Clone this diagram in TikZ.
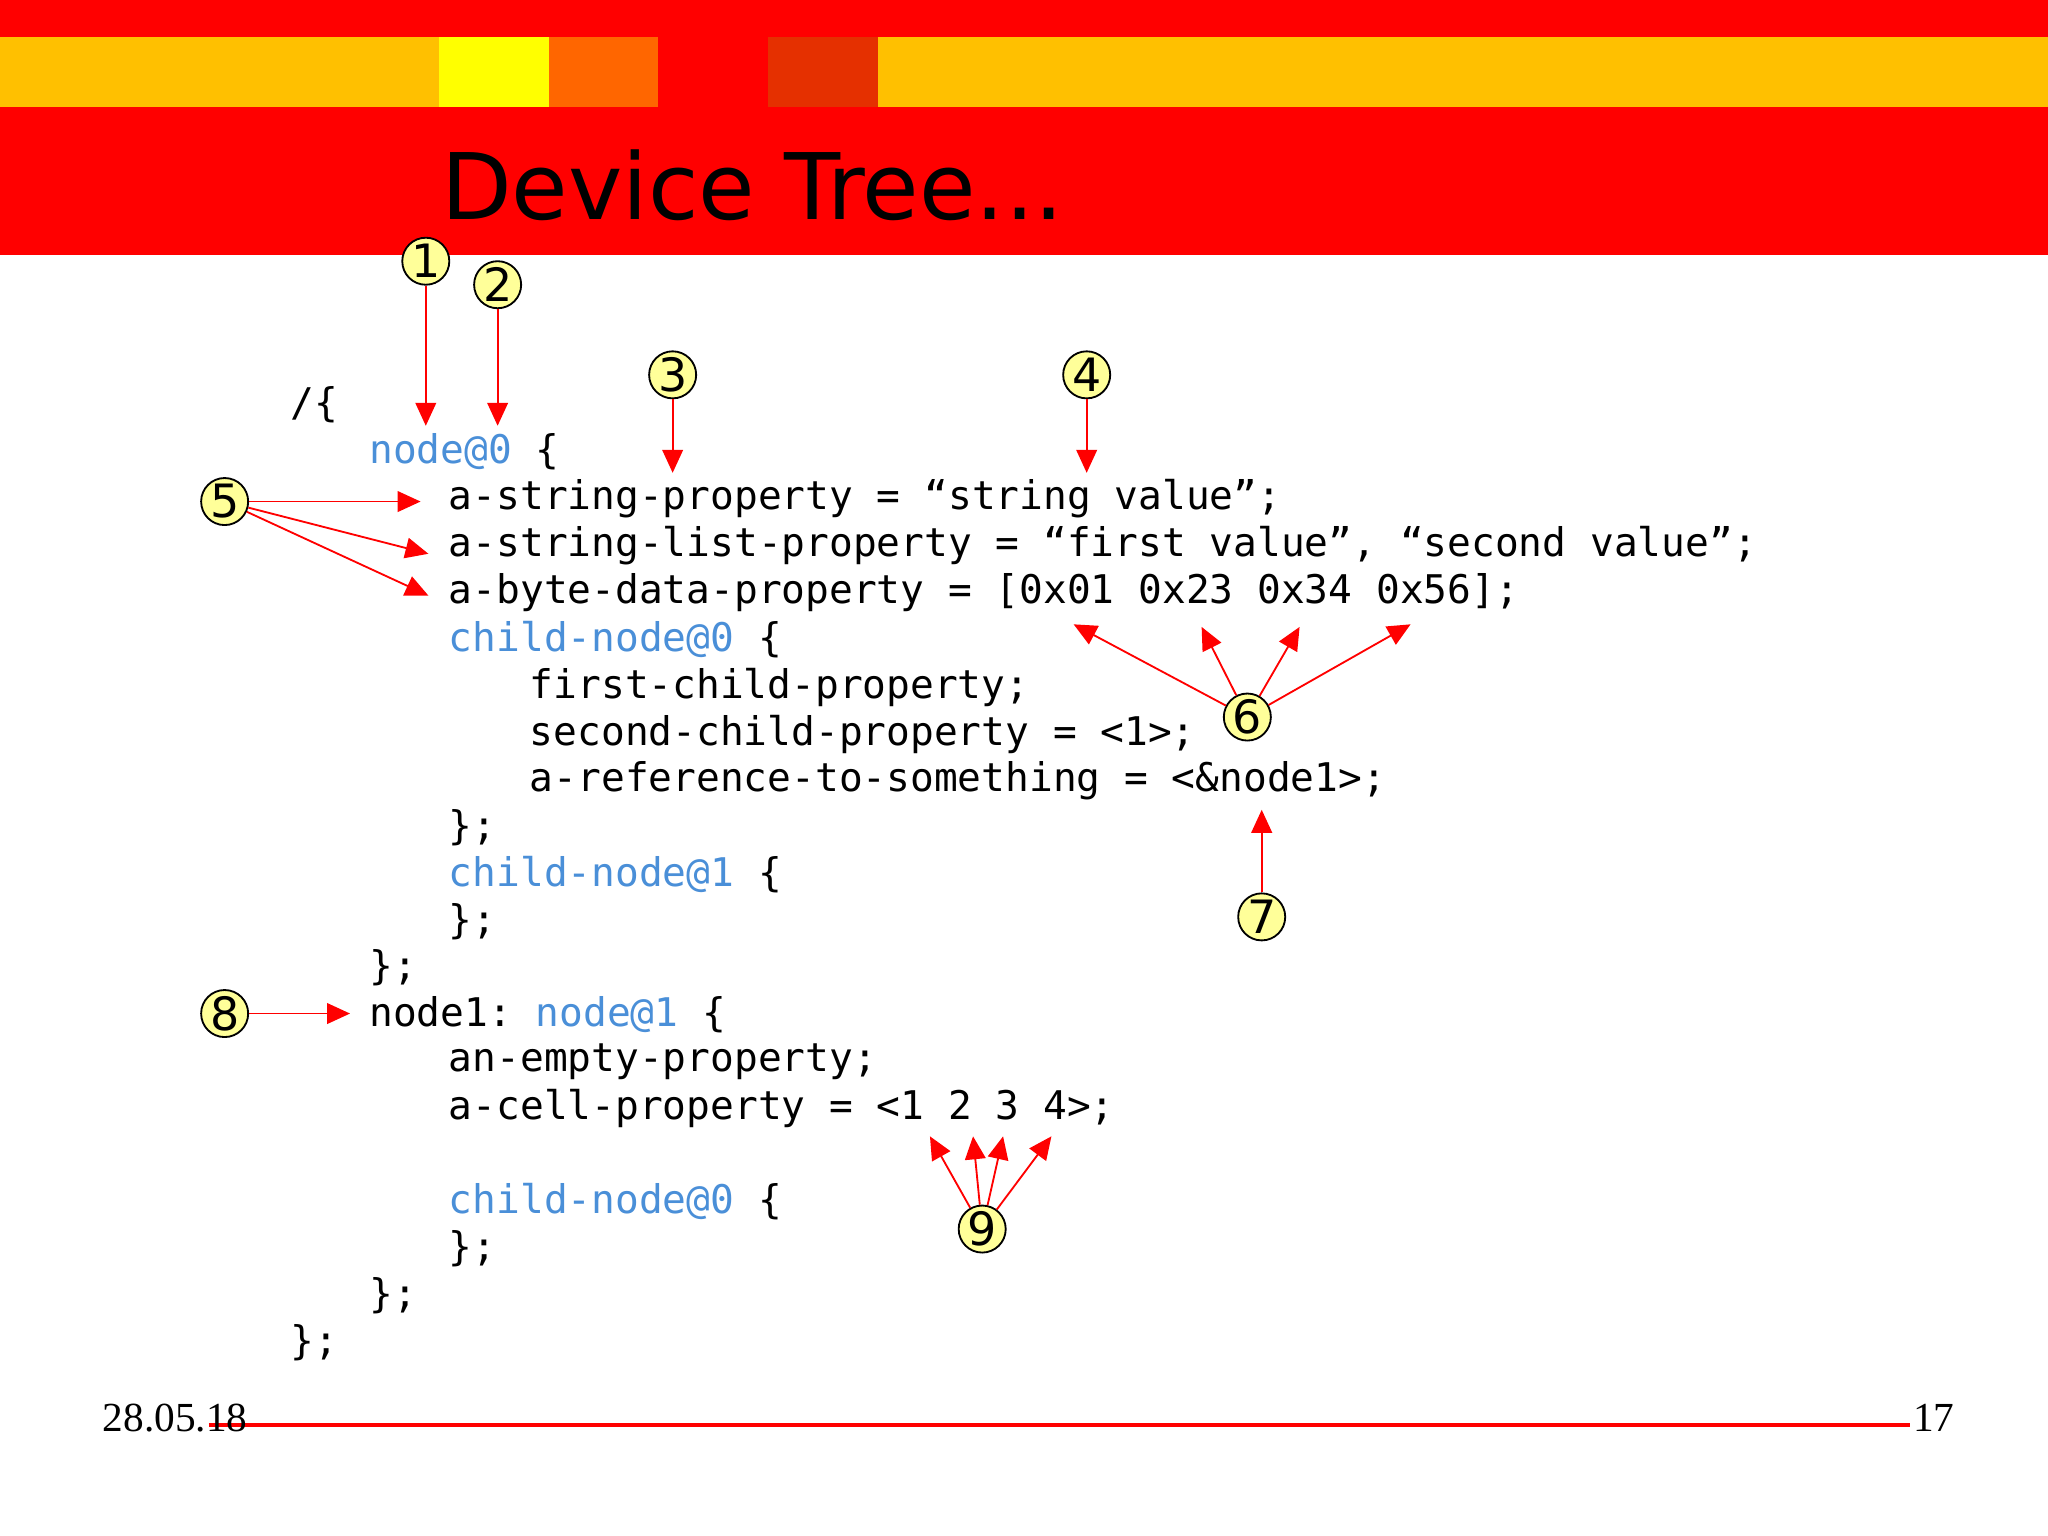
\documentclass[tikz,border=0pt]{standalone}
\usepackage{fontspec}
\setmainfont{DejaVu Sans}
\setmonofont{DejaVu Sans Mono}
\newfontfamily\footfont{Liberation Serif}
\usetikzlibrary{arrows.meta}
\definecolor{bandred}{HTML}{FF0000}
\definecolor{stripgold}{HTML}{FFC000}
\definecolor{stripyel}{HTML}{FFFF00}
\definecolor{striporg}{HTML}{FF6600}
\definecolor{stripdark}{HTML}{E53000}
\definecolor{kwblue}{HTML}{4A8FD8}
\definecolor{balloon}{HTML}{FFFF99}
\tikzset{%
  num/.style={circle,draw=black,fill=balloon,minimum size=0.36cm,inner sep=0pt,font=\fontsize{10}{12}\selectfont},
  code/.style={anchor=west,inner sep=0pt,font=\ttfamily\fontsize{8.6}{10}\selectfont},
  arr/.style={draw=bandred,-{Triangle[length=5pt,width=4.5pt]}}
}
\newcommand{\kw}[1]{\textcolor{kwblue}{#1}}
\begin{document}
\begin{tikzpicture}[x=0.01cm,y=-0.01cm]
    \useasboundingbox (0,0) rectangle (1568,1176);
    \fill[white] (0,0) rectangle (1568,1176);
    % title band
    \fill[bandred] (0,0) rectangle (1568,195);
    \fill[stripgold] (0,28) rectangle (1568,82);
    \fill[stripyel] (336,28) rectangle (420,82);
    \fill[striporg] (420,28) rectangle (504,82);
    \fill[bandred] (504,28) rectangle (588,82);
    \fill[stripdark] (588,28) rectangle (672,82);
    \node[anchor=base west,inner sep=0pt,font=\fontsize{20}{24}\selectfont] (title)
      at (337,168) {Device Tree...};
    %
    \node[code] (l1) at (222,310) {/\{};
    \node[code] (l2) at (282,346) {\kw{node@0} \{};
    \node[code] (l3) at (343,382) {a-string-property = “string value”;};
    \node[code] (l4) at (343,418) {a-string-list-property = “first value”, “second value”;};
    \node[code] (l5) at (343,454) {a-byte-data-property = [0x01 0x23 0x34 0x56];};
    \node[code] (l6) at (343,490) {\kw{child-node@0} \{};
    \node[code] (l7) at (405,526) {first-child-property;};
    \node[code] (l8) at (405,562) {second-child-property = <1>;};
    \node[code] (l9) at (405,598) {a-reference-to-something = <\&node1>;};
    \node[code] (l10) at (343,634) {\};};
    \node[code] (l11) at (343,670) {\kw{child-node@1} \{};
    \node[code] (l12) at (343,706) {\};};
    \node[code] (l13) at (282,741) {\};};
    \node[code] (l14) at (282,777) {node1: \kw{node@1} \{};
    \node[code] (l15) at (343,813) {an-empty-property;};
    \node[code] (l16) at (343,849) {a-cell-property = <1 2 3 4>;};
    \node[code] (l17) at (343,920) {\kw{child-node@0} \{};
    \node[code] (l18) at (343,956) {\};};
    \node[code] (l19) at (282,992) {\};};
    \node[code] (l20) at (222,1028) {\};};
    %
    \node[num] (c1) at (326,200) {1};
    \node[num] (c2) at (381,218) {2};
    \node[num] (c3) at (515,287) {3};
    \node[num] (c4) at (832,287) {4};
    \node[num] (c5) at (172,384) {5};
    \node[num] (c6) at (955,549) {6};
    \node[num] (c7) at (966,702) {7};
    \node[num] (c8) at (172,776) {8};
    \node[num] (c9) at (752,941) {9};
    %
    \coordinate (t1) at (326,326);
    \coordinate (t2) at (381,326);
    \coordinate (t3) at (515,362);
    \coordinate (t4) at (832,362);
    \draw[arr] (c1) -- (t1);
    \draw[arr] (c2) -- (t2);
    \draw[arr] (c3) -- (t3);
    \draw[arr] (c4) -- (t4);
    \foreach \tx/\ty in {322/384, 328/424, 328/456}
      \draw[arr] (c5) -- (\tx,\ty);
    \foreach \tx/\ty in {822/478, 920/480, 995/480, 1080/478}
      \draw[arr] (c6) -- (\tx,\ty);
    \coordinate (t7) at (966,620);
    \draw[arr] (c7) -- (t7);
    \coordinate (t8) at (268,776);
    \draw[arr] (c8) -- (t8);
    \foreach \tx/\ty in {712/870, 745/870, 768/870, 805/870}
      \draw[arr] (c9) -- (\tx,\ty);
    % footer
    \coordinate (f1) at (160,1091);
    \coordinate (f2) at (1462,1091);
    \draw[bandred,line width=0.8pt] (f1) -- (f2);
    \node[anchor=base west,inner sep=0pt,font=\footfont\fontsize{9}{11}\selectfont] (date)
      at (78,1096) {28.05.18};
    \node[anchor=base west,inner sep=0pt,font=\footfont\fontsize{9}{11}\selectfont] (page)
      at (1464,1096) {17};
\end{tikzpicture}
\end{document}
